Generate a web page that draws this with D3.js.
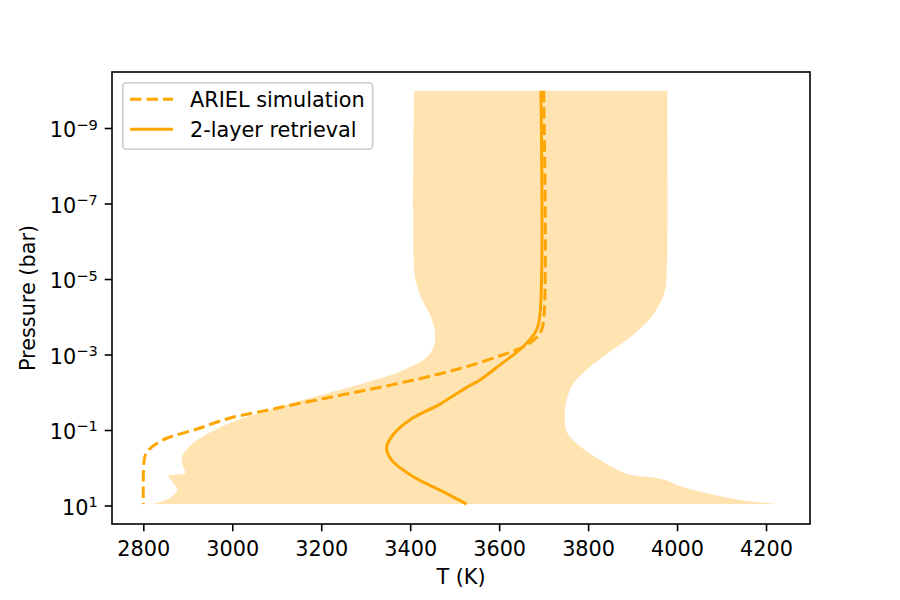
<!DOCTYPE html>
<html>
<head>
<meta charset="utf-8">
<script src="https://cdn.jsdelivr.net/npm/d3@7"></script>
<style>
  body { margin: 0; background: #fff; }
  text { font-family: "DejaVu Sans", sans-serif; }
</style>
</head>
<body>
<svg id="chart" width="900" height="600"></svg>
<script>
// ARIEL simulation profile (log10 P in bar, T in K)
var arielLogP = [-10, -3.93, -3.58, -3.27, -3.0, -2.71, -2.475, -2.274, -2.091, -1.906, -1.72, -1.527, -1.331, -1.04, -0.75, -0.43, -0.22, 0.95];
var arielT    = [3700, 3700, 3692, 3663, 3607, 3532, 3458, 3384, 3310, 3231, 3152, 3074, 2995, 2921, 2844, 2808, 2802, 2800];

// 2-layer retrieval, best fit
var retrLogP = [-10, -4.11, -3.66, -3.22, -2.74, -2.34, -2.15, -1.70, -1.31, -0.88, -0.54, -0.22, 0.22, 0.58, 0.95];
var retrT    = [3694, 3692, 3684, 3654, 3602, 3557, 3528, 3467, 3403, 3361, 3347, 3358, 3406, 3467, 3527];

// retrieval spread, lower (cold) edge
var lowLogP = [-10, -5.25, -4.85, -4.46, -4.06, -3.58, -3.265, -3.0, -2.815, -2.656, -2.497, -2.364, -2.245, -2.007, -1.768, -1.49, -1.20, -0.75, -0.48, -0.30, -0.06, 0.126, 0.205, 0.36, 0.58, 0.74, 0.87, 0.95];
var lowT    = [3409, 3409, 3415, 3427, 3445, 3456, 3454, 3442, 3422, 3395, 3364, 3328, 3294, 3220, 3146, 3069, 2995, 2921, 2896, 2887, 2889, 2894, 2856, 2865, 2876, 2865, 2845, 2820];

// retrieval spread, upper (hot) edge
var highLogP = [-10, -5.25, -4.72, -4.38, -4.03, -3.715, -3.397, -3.106, -2.815, -2.55, -2.258, -1.94, -1.543, -1.20, -0.96, -0.75, -0.48, -0.22, -0.01, 0.15, 0.285, 0.50, 0.66, 0.84, 0.95];
var highT    = [3978, 3977, 3973, 3962, 3944, 3919, 3887, 3851, 3818, 3791, 3768, 3755, 3748, 3748, 3752, 3766, 3793, 3827, 3858, 3887, 3966, 4013, 4067, 4141, 4227];

var xTicks = [2800, 3000, 3200, 3400, 3600, 3800, 4000, 4200];
var yTickExp = [-9, -7, -5, -3, -1, 1];

var orange = '#ffa500';
var axLeft = 112, axRight = 810, axTop = 72, axBottom = 524;

var svg = d3.select('#chart');

var x = d3.scaleLinear().domain([2729.6, 4298.9]).range([axLeft, axRight]);
var y = d3.scaleLog().domain([Math.pow(10, -10.497), Math.pow(10, 1.477)]).range([axTop, axBottom]);

function pts(logP, T) {
    return logP.map(function(p, i) { return [T[i], Math.pow(10, p)]; });
}

var line = d3.line()
    .x(function(d) { return x(d[0]); })
    .y(function(d) { return y(d[1]); })
    .curve(d3.curveCatmullRom.alpha(0.5));

// shaded band: cold edge down, hot edge back up
var lowPath = line(pts(lowLogP, lowT));
var highPath = line(pts(highLogP, highT).reverse());
svg.append('path')
    .attr('d', lowPath + 'L' + highPath.slice(1) + 'Z')
    .attr('fill', orange)
    .attr('fill-opacity', 0.3)
    .attr('stroke', 'none');

svg.append('path')
    .attr('d', line(pts(arielLogP, arielT)))
    .attr('fill', 'none')
    .attr('stroke', orange)
    .attr('stroke-width', 3)
    .attr('stroke-dasharray', '11.5,5');

svg.append('path')
    .attr('d', line(pts(retrLogP, retrT)))
    .attr('fill', 'none')
    .attr('stroke', orange)
    .attr('stroke-width', 3);

// axes
var xAxis = d3.axisBottom(x).tickValues(xTicks).tickSize(7.3).tickPadding(7.3).tickFormat(d3.format('d'));
var gx = svg.append('g').attr('transform', 'translate(0,' + axBottom + ')').call(xAxis);
gx.select('.domain').remove();
gx.selectAll('line').attr('stroke', '#000').attr('stroke-width', 1.6);
gx.selectAll('text').attr('font-size', '20.8px').attr('fill', '#000')
    .attr('dy', null).attr('y', 32);

var gy = svg.append('g');
yTickExp.forEach(function(e) {
    var yy = y(Math.pow(10, e));
    gy.append('line').attr('x1', axLeft).attr('x2', axLeft - 7.3)
        .attr('y1', yy).attr('y2', yy)
        .attr('stroke', '#000').attr('stroke-width', 1.6);
    var t = gy.append('text').attr('x', 97.7).attr('y', yy + 8.7)
        .attr('text-anchor', 'end').attr('font-size', '20.8px').attr('fill', '#000');
    t.append('tspan').text('10');
    t.append('tspan').attr('font-size', '14.6px').attr('dy', -7.7)
        .text(e < 0 ? '\u2212' + (-e) : String(e));
});

// frame
svg.append('rect')
    .attr('x', axLeft).attr('y', axTop)
    .attr('width', axRight - axLeft).attr('height', axBottom - axTop)
    .attr('fill', 'none').attr('stroke', '#000').attr('stroke-width', 1.6);

svg.append('text')
    .attr('x', (axLeft + axRight) / 2).attr('y', 584)
    .attr('text-anchor', 'middle').attr('font-size', '20.8px')
    .text('T (K)');

svg.append('text')
    .attr('transform', 'translate(35,' + (axTop + axBottom) / 2 + ') rotate(-90)')
    .attr('text-anchor', 'middle').attr('font-size', '20.8px')
    .text('Pressure (bar)');

// legend
var legend = svg.append('g');
legend.append('rect')
    .attr('x', 122.7).attr('y', 82.7).attr('width', 250).attr('height', 66.6)
    .attr('rx', 4).attr('fill', '#fff').attr('fill-opacity', 0.8)
    .attr('stroke', '#cccccc').attr('stroke-width', 1.6);
var entries = [
    { label: 'ARIEL simulation', dash: '11.5,5', cy: 99.3 },
    { label: '2-layer retrieval', dash: null, cy: 129.3 }
];
entries.forEach(function(d) {
    legend.append('line')
        .attr('x1', 130).attr('x2', 173).attr('y1', d.cy).attr('y2', d.cy)
        .attr('stroke', orange).attr('stroke-width', 3)
        .attr('stroke-dasharray', d.dash);
    legend.append('text')
        .attr('x', 190).attr('y', d.cy + 7.5)
        .attr('font-size', '20.8px')
        .text(d.label);
});
</script>
</body>
</html>
